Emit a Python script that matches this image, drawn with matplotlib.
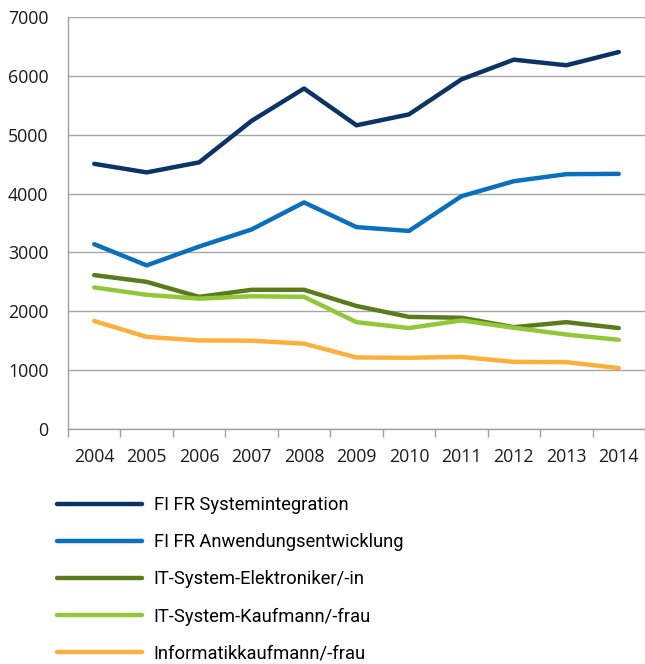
import matplotlib
matplotlib.use("Agg")
import matplotlib.pyplot as plt
import numpy as np

plt.rcParams['font.family'] = ['Open Sans', 'DejaVu Sans']

years = ['2004', '2005', '2006', '2007', '2008', '2009', '2010', '2011', '2012', '2013', '2014']

systemintegration = [4505, 4360, 4530, 5235, 5785, 5160, 5345, 5940, 6275, 6180, 6405]
anwendungsentwicklung = [3140, 2780, 3100, 3390, 3850, 3430, 3365, 3955, 4210, 4330, 4335]
elektroniker = [2615, 2500, 2245, 2365, 2365, 2090, 1905, 1890, 1730, 1815, 1715]
kaufmann_sys = [2405, 2280, 2215, 2255, 2245, 1815, 1715, 1845, 1720, 1605, 1515]
informatikkaufmann = [1835, 1565, 1505, 1500, 1450, 1215, 1210, 1225, 1140, 1135, 1035]

labels = ['FI FR Systemintegration', 'FI FR Anwendungsentwicklung',
          'IT-System-Elektroniker/-in', 'IT-System-Kaufmann/-frau',
          'Informatikkaufmann/-frau']
series = [systemintegration, anwendungsentwicklung, elektroniker, kaufmann_sys, informatikkaufmann]
line_colors = ['#0b3466', '#0a6fbd', '#5a7b1c', '#94c63a', '#fbb03e']

fig = plt.figure(figsize=(6.45, 6.64), dpi=100)
ax = fig.add_axes([68/645, 1 - 429/664, 1 - 68/645, (429 - 17)/664])

x = np.arange(len(years))
for vals, lab, col in zip(series, labels, line_colors):
    ax.plot(x, vals, color=col, lw=3.2, label=lab, solid_capstyle='round', solid_joinstyle='round')

ax.set_xlim(-0.5, len(years) - 0.5)
ax.set_ylim(0, 7000)
ax.set_yticks(range(0, 7001, 1000))
ax.set_xticks(x)
ax.set_xticklabels(years)
ax.set_xticks(np.arange(-0.5, len(years)), minor=True)
ax.tick_params(axis='x', which='major', length=0, pad=14, labelsize=12.8, colors='#1a1a1a')
ax.tick_params(axis='x', which='minor', length=6, color='#a0a0a0', width=1)
ax.tick_params(axis='y', length=0, pad=14, labelsize=12.8, colors='#1a1a1a')

ax.grid(axis='y', color='#a6a6a6', lw=1)
ax.set_axisbelow(True)
for s in ['top', 'right']:
    ax.spines[s].set_visible(False)
for s in ['left', 'bottom']:
    ax.spines[s].set_color('#a0a0a0')
    ax.spines[s].set_linewidth(1)

ax.legend(loc='upper left', bbox_to_anchor=(50/645, 1 - 489/664), bbox_transform=fig.transFigure,
          frameon=False, prop={'family': ['Roboto', 'Open Sans'], 'size': 13.2},
          handlelength=4.6, handletextpad=0.65, labelspacing=1.04, borderaxespad=0)

fig.savefig('out.png', dpi=100)
